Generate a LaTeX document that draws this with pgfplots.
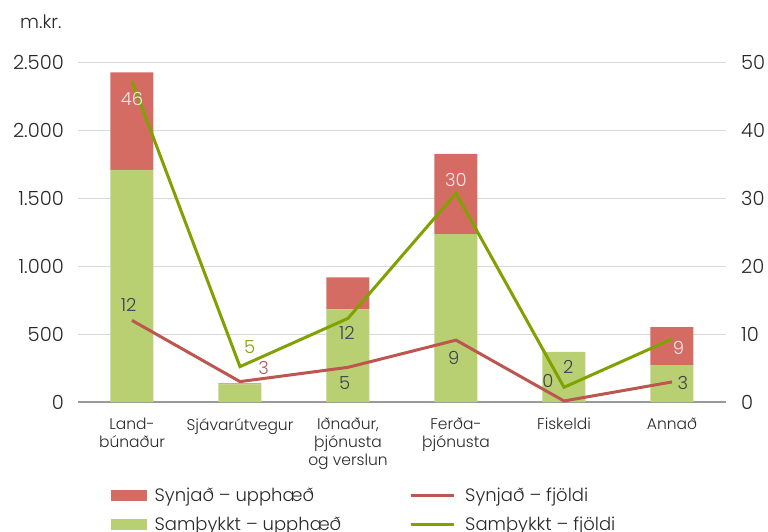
\documentclass[border=0pt]{standalone}
\usepackage{fontspec}
\setmainfont{Poppins Light}
\usepackage{pgfplots}
\pgfplotsset{compat=1.18}
\definecolor{barred}{RGB}{213,108,100}
\definecolor{bargreen}{RGB}{184,208,114}
\definecolor{linered}{RGB}{190,86,80}
\definecolor{linegreen}{RGB}{128,162,0}
\definecolor{labdark}{RGB}{60,66,80}
\definecolor{labwhite}{RGB}{242,234,234}
\definecolor{txt}{RGB}{40,40,40}
\begin{document}
\begin{tikzpicture}[font=\fontsize{15.5}{18.5}\selectfont, text=txt]
\begin{axis}[
  scale only axis, width=648pt, height=340pt,
  xmin=-0.5, xmax=5.5, ymin=0, ymax=2500,
  ybar stacked, bar width=43pt,
  axis x line*=bottom, axis y line*=left,
  x axis line style={-, draw=black!40, line width=1.5pt},
  y axis line style={draw=none},
  major tick length=0pt,
  xtick={0,1,2,3,4,5},
  xticklabels={{Land-\\búnaður}, Sjávarútvegur, {Iðnaður,\\þjónusta\\og verslun}, {Ferða-\\þjónusta}, Fiskeldi, Annað},
  xticklabel style={align=center, inner sep=0pt, yshift=-16pt, font=\fontsize{15.5}{18}\selectfont, text=txt},
  ytick={0,500,1000,1500,2000,2500},
  ymajorgrids, grid style={black!15, line width=0.8pt},
  yticklabel style={font=\fontsize{19.5}{22}\selectfont, inner sep=0pt, anchor=east, xshift=-14pt, text=txt},
  /pgf/number format/1000 sep={.},
  /pgf/number format/assume math mode=true,
]
\addplot[fill=bargreen, draw=none] coordinates {(0,1706) (1,130) (2,681) (3,1235) (4,368) (5,272)};
\addplot[fill=barred, draw=none] coordinates {(0,718) (1,7) (2,236) (3,589) (4,0) (5,279)};
\end{axis}
\begin{axis}[
  scale only axis, width=648pt, height=340pt,
  xmin=-0.5, xmax=5.5, ymin=0, ymax=50,
  axis x line=none, axis y line*=right,
  y axis line style={draw=none},
  major tick length=0pt,
  ytick={0,10,20,30,40,50},
  yticklabel style={font=\fontsize{19.5}{22}\selectfont, inner sep=0pt, anchor=west, xshift=15pt, text=txt},
  /pgf/number format/assume math mode=true,
  legend columns=2,
  legend cell align=left,
  legend style={draw=none, fill=none, inner sep=0pt,
    at={(axis description cs:0.051,-0.245)}, anchor=north west,
    font=\fontsize{18}{21}\selectfont,
    /tikz/every even column/.append style={column sep=66pt},
    /tikz/row sep=10pt},
]
\addplot[linered, line width=3pt, forget plot] coordinates {(0,12) (1,3) (2,5.1) (3,9.1) (4,0.15) (5,2.95)};
\addplot[linegreen, line width=3pt, forget plot] coordinates {(0,47.2) (1,5.2) (2,12.3) (3,30.7) (4,2.16) (5,9.26)};
\addlegendimage{legend image code/.code={\fill[barred] (0pt,-5pt) rectangle (35pt,5pt);}}
\addlegendentry{\hspace{6pt}Synjað – upphæð}
\addlegendimage{legend image code/.code={\draw[linered, line width=3pt] (0pt,0pt) -- (43pt,0pt);}}
\addlegendentry{\hspace{8pt}Synjað – fjöldi}
\addlegendimage{legend image code/.code={\fill[bargreen] (0pt,-5pt) rectangle (35pt,5pt);}}
\addlegendentry{\hspace{6pt}Samþykkt – upphæð}
\addlegendimage{legend image code/.code={\draw[linegreen, line width=3pt] (0pt,0pt) -- (43pt,0pt);}}
\addlegendentry{\hspace{8pt}Samþykkt – fjöldi}
\begin{scope}[font=\fontsize{18}{21}\selectfont]
\node[text=labwhite] at (axis cs:0,44.6) {46};
\node[text=labdark] at (axis cs:-0.03,14.3) {12};
\node[text=linegreen] at (axis cs:1.09,8.1) {5};
\node[text=linered] at (axis cs:1.22,5.0) {3};
\node[text=labdark] at (axis cs:1.99,10.1) {12};
\node[text=labdark] at (axis cs:1.97,2.8) {5};
\node[text=labwhite] at (axis cs:3.0,32.6) {30};
\node[text=labdark] at (axis cs:2.98,6.5) {9};
\node[text=labdark] at (axis cs:3.85,3.1) {0};
\node[text=labdark] at (axis cs:4.04,5.1) {2};
\node[text=labwhite] at (axis cs:5.06,7.9) {9};
\node[text=labdark] at (axis cs:5.1,2.8) {3};
\end{scope}
\end{axis}
\node[anchor=east, font=\fontsize{18.5}{21}\selectfont] at (-13pt,380pt) {m.kr.};
\pgfresetboundingbox
\path[use as bounding box] (-78pt,-129pt) rectangle (690pt,402pt);
\end{tikzpicture}
\end{document}
